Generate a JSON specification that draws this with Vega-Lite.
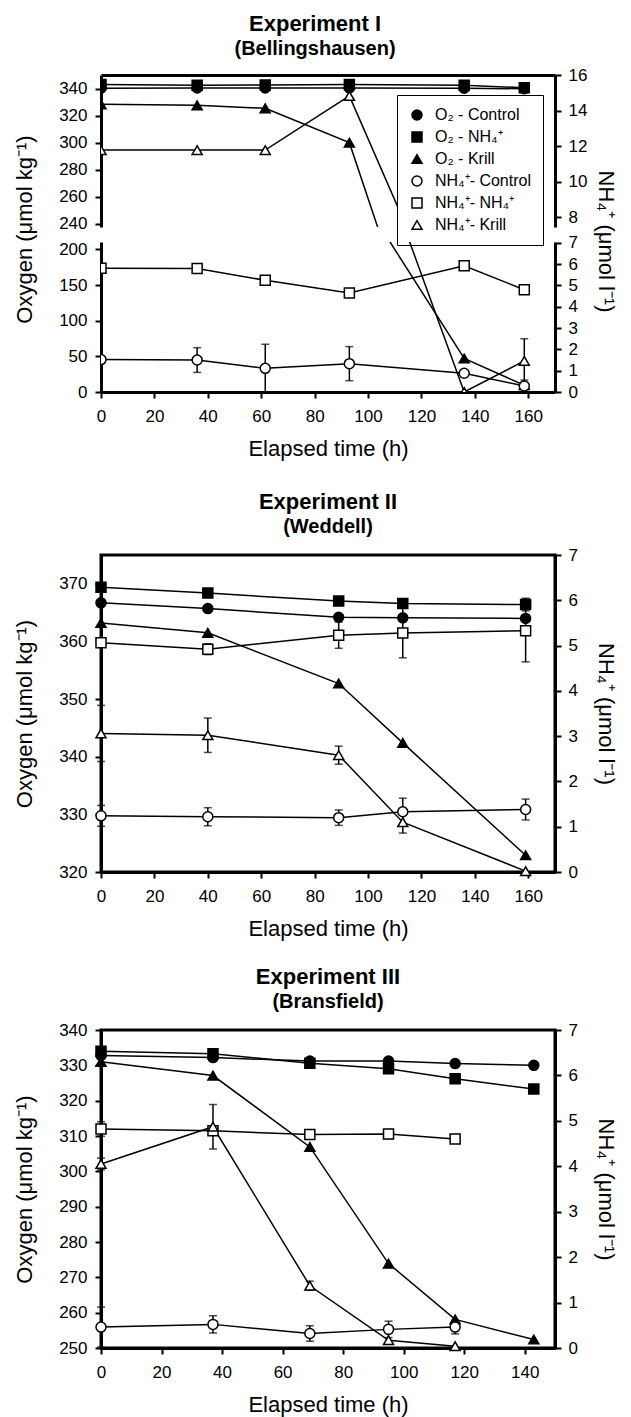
{
  "$schema": "https://vega.github.io/schema/vega-lite/v6.json",
  "padding": {"left": 12, "top": 13, "right": 5, "bottom": 2},
  "background": "white",
  "config": {
    "font": "Liberation Sans",
    "view": {"stroke": null},
    "axis": {
      "domainColor": "black", "domainWidth": 3, "tickColor": "black", "tickWidth": 2, "tickSize": 6,
      "labelColor": "black", "labelFont": "Liberation Sans", "labelFontSize": 17, "labelPadding": 8,
      "labelFlush": false, "labelOverlap": false,
      "titleFont": "Liberation Sans", "titleFontSize": 22, "titleFontWeight": "normal", "titleColor": "black",
      "titlePadding": 22, "grid": false
    },
    "axisX": {"labelPadding": 10, "titlePadding": 14},
    "axisRight": {"labelPadding": 7, "titlePadding": 16},
    "title": {
      "font": "Liberation Sans", "fontSize": 22, "fontWeight": "bold", "color": "black",
      "subtitleFont": "Liberation Sans", "subtitleFontSize": 20, "subtitleFontWeight": "bold", "subtitleColor": "black",
      "anchor": "middle", "offset": 8, "subtitlePadding": 3
    }
  },
  "datasets": {
    "e1": [
      {"t": 0, "g": "O2", "s": "O₂ - Control", "v": 340.3},
      {"t": 36, "g": "O2", "s": "O₂ - Control", "v": 340.4},
      {"t": 61.5, "g": "O2", "s": "O₂ - Control", "v": 340.4},
      {"t": 93, "g": "O2", "s": "O₂ - Control", "v": 340.4},
      {"t": 136, "g": "O2", "s": "O₂ - Control", "v": 340.3},
      {"t": 158.5, "g": "O2", "s": "O₂ - Control", "v": 339.8},
      {"t": 0, "g": "O2", "s": "O₂ - NH₄⁺", "v": 343},
      {"t": 36, "g": "O2", "s": "O₂ - NH₄⁺", "v": 342.5},
      {"t": 61.5, "g": "O2", "s": "O₂ - NH₄⁺", "v": 342.6},
      {"t": 93, "g": "O2", "s": "O₂ - NH₄⁺", "v": 343},
      {"t": 136, "g": "O2", "s": "O₂ - NH₄⁺", "v": 342.4},
      {"t": 158.5, "g": "O2", "s": "O₂ - NH₄⁺", "v": 340.6},
      {"t": 0, "g": "O2", "s": "O₂ - Krill", "v": 328.3},
      {"t": 36, "g": "O2", "s": "O₂ - Krill", "v": 327.6},
      {"t": 61.5, "g": "O2", "s": "O₂ - Krill", "v": 325.4},
      {"t": 93, "g": "O2", "s": "O₂ - Krill", "v": 300},
      {"t": 136, "g": "O2", "s": "O₂ - Krill", "v": 47},
      {"t": 158.5, "g": "O2", "s": "O₂ - Krill", "v": 9.5},
      {"t": 0, "g": "NH4", "s": "NH₄⁺- Control", "v": 1.52},
      {"t": 36, "g": "NH4", "s": "NH₄⁺- Control", "v": 1.5, "err": 0.58},
      {"t": 61.5, "g": "NH4", "s": "NH₄⁺- Control", "v": 1.11, "err": 1.13},
      {"t": 93, "g": "NH4", "s": "NH₄⁺- Control", "v": 1.33, "err": 0.8},
      {"t": 136, "g": "NH4", "s": "NH₄⁺- Control", "v": 0.88},
      {"t": 158.5, "g": "NH4", "s": "NH₄⁺- Control", "v": 0.28, "err": 0.28},
      {"t": 0, "g": "NH4", "s": "NH₄⁺- NH₄⁺", "v": 5.81},
      {"t": 36, "g": "NH4", "s": "NH₄⁺- NH₄⁺", "v": 5.8},
      {"t": 61.5, "g": "NH4", "s": "NH₄⁺- NH₄⁺", "v": 5.24},
      {"t": 93, "g": "NH4", "s": "NH₄⁺- NH₄⁺", "v": 4.65},
      {"t": 136, "g": "NH4", "s": "NH₄⁺- NH₄⁺", "v": 5.92},
      {"t": 158.5, "g": "NH4", "s": "NH₄⁺- NH₄⁺", "v": 4.8},
      {"t": 0, "g": "NH4", "s": "NH₄⁺- Krill", "v": 11.77},
      {"t": 36, "g": "NH4", "s": "NH₄⁺- Krill", "v": 11.77},
      {"t": 61.5, "g": "NH4", "s": "NH₄⁺- Krill", "v": 11.77},
      {"t": 93, "g": "NH4", "s": "NH₄⁺- Krill", "v": 14.82},
      {"t": 136, "g": "NH4", "s": "NH₄⁺- Krill", "v": 0},
      {"t": 158.5, "g": "NH4", "s": "NH₄⁺- Krill", "v": 1.46, "err": 1.04}
    ],
    "e2": [
      {"t": 0, "g": "O2", "s": "O₂ - Control", "v": 366.7},
      {"t": 40, "g": "O2", "s": "O₂ - Control", "v": 365.7},
      {"t": 89, "g": "O2", "s": "O₂ - Control", "v": 364.2},
      {"t": 113, "g": "O2", "s": "O₂ - Control", "v": 364.1},
      {"t": 159, "g": "O2", "s": "O₂ - Control", "v": 364.0},
      {"t": 0, "g": "O2", "s": "O₂ - NH₄⁺", "v": 369.4},
      {"t": 40, "g": "O2", "s": "O₂ - NH₄⁺", "v": 368.4},
      {"t": 89, "g": "O2", "s": "O₂ - NH₄⁺", "v": 367.0},
      {"t": 113, "g": "O2", "s": "O₂ - NH₄⁺", "v": 366.6},
      {"t": 159, "g": "O2", "s": "O₂ - NH₄⁺", "v": 366.4, "err": 1.1},
      {"t": 0, "g": "O2", "s": "O₂ - Krill", "v": 363.2},
      {"t": 40, "g": "O2", "s": "O₂ - Krill", "v": 361.5},
      {"t": 89, "g": "O2", "s": "O₂ - Krill", "v": 352.7},
      {"t": 113, "g": "O2", "s": "O₂ - Krill", "v": 342.4},
      {"t": 159, "g": "O2", "s": "O₂ - Krill", "v": 322.9},
      {"t": 0, "g": "NH4", "s": "NH₄⁺- Control", "v": 1.24, "err": 0.23},
      {"t": 40, "g": "NH4", "s": "NH₄⁺- Control", "v": 1.22, "err": 0.2},
      {"t": 89, "g": "NH4", "s": "NH₄⁺- Control", "v": 1.2, "err": 0.17},
      {"t": 113, "g": "NH4", "s": "NH₄⁺- Control", "v": 1.33, "err": 0.3},
      {"t": 159, "g": "NH4", "s": "NH₄⁺- Control", "v": 1.38, "err": 0.23},
      {"t": 0, "g": "NH4", "s": "NH₄⁺- NH₄⁺", "v": 5.06},
      {"t": 40, "g": "NH4", "s": "NH₄⁺- NH₄⁺", "v": 4.92, "err": 0.12},
      {"t": 89, "g": "NH4", "s": "NH₄⁺- NH₄⁺", "v": 5.23, "err": 0.29},
      {"t": 113, "g": "NH4", "s": "NH₄⁺- NH₄⁺", "v": 5.28, "err": 0.55},
      {"t": 159, "g": "NH4", "s": "NH₄⁺- NH₄⁺", "v": 5.33, "err": 0.69},
      {"t": 0, "g": "NH4", "s": "NH₄⁺- Krill", "v": 3.06, "err": 0.62},
      {"t": 40, "g": "NH4", "s": "NH₄⁺- Krill", "v": 3.02, "err": 0.38},
      {"t": 89, "g": "NH4", "s": "NH₄⁺- Krill", "v": 2.58, "err": 0.2},
      {"t": 113, "g": "NH4", "s": "NH₄⁺- Krill", "v": 1.1, "err": 0.24},
      {"t": 159, "g": "NH4", "s": "NH₄⁺- Krill", "v": 0.02}
    ],
    "e3": [
      {"t": 0, "g": "O2", "s": "O₂ - Control", "v": 332.8},
      {"t": 37, "g": "O2", "s": "O₂ - Control", "v": 332.2},
      {"t": 69, "g": "O2", "s": "O₂ - Control", "v": 331.2},
      {"t": 95, "g": "O2", "s": "O₂ - Control", "v": 331.2},
      {"t": 117, "g": "O2", "s": "O₂ - Control", "v": 330.5},
      {"t": 143, "g": "O2", "s": "O₂ - Control", "v": 330.0},
      {"t": 0, "g": "O2", "s": "O₂ - NH₄⁺", "v": 334},
      {"t": 37, "g": "O2", "s": "O₂ - NH₄⁺", "v": 333.3},
      {"t": 69, "g": "O2", "s": "O₂ - NH₄⁺", "v": 330.6},
      {"t": 95, "g": "O2", "s": "O₂ - NH₄⁺", "v": 329.0},
      {"t": 117, "g": "O2", "s": "O₂ - NH₄⁺", "v": 326.2},
      {"t": 143, "g": "O2", "s": "O₂ - NH₄⁺", "v": 323.3},
      {"t": 0, "g": "O2", "s": "O₂ - Krill", "v": 331},
      {"t": 37, "g": "O2", "s": "O₂ - Krill", "v": 327.1},
      {"t": 69, "g": "O2", "s": "O₂ - Krill", "v": 306.9},
      {"t": 95, "g": "O2", "s": "O₂ - Krill", "v": 273.9},
      {"t": 117, "g": "O2", "s": "O₂ - Krill", "v": 258.1},
      {"t": 143, "g": "O2", "s": "O₂ - Krill", "v": 252.4},
      {"t": 0, "g": "NH4", "s": "NH₄⁺- Control", "v": 0.46, "err": 0.44},
      {"t": 37, "g": "NH4", "s": "NH₄⁺- Control", "v": 0.52, "err": 0.19},
      {"t": 69, "g": "NH4", "s": "NH₄⁺- Control", "v": 0.32, "err": 0.17},
      {"t": 95, "g": "NH4", "s": "NH₄⁺- Control", "v": 0.41, "err": 0.18},
      {"t": 117, "g": "NH4", "s": "NH₄⁺- Control", "v": 0.46, "err": 0.15},
      {"t": 0, "g": "NH4", "s": "NH₄⁺- NH₄⁺", "v": 4.82, "err": 0.16},
      {"t": 37, "g": "NH4", "s": "NH₄⁺- NH₄⁺", "v": 4.78},
      {"t": 69, "g": "NH4", "s": "NH₄⁺- NH₄⁺", "v": 4.7},
      {"t": 95, "g": "NH4", "s": "NH₄⁺- NH₄⁺", "v": 4.71, "err": 0.1},
      {"t": 117, "g": "NH4", "s": "NH₄⁺- NH₄⁺", "v": 4.6},
      {"t": 0, "g": "NH4", "s": "NH₄⁺- Krill", "v": 4.05, "err": 0.13},
      {"t": 37, "g": "NH4", "s": "NH₄⁺- Krill", "v": 4.87, "err": 0.49},
      {"t": 69, "g": "NH4", "s": "NH₄⁺- Krill", "v": 1.37, "err": 0.1},
      {"t": 95, "g": "NH4", "s": "NH₄⁺- Krill", "v": 0.17},
      {"t": 117, "g": "NH4", "s": "NH₄⁺- Krill", "v": 0.04}
    ]
  },
  "resolve": {"scale": {"shape": "independent", "fill": "independent"}},
  "spacing": 30,
  "vconcat": [
    {
      "title": {"text": "Experiment I", "subtitle": "(Bellingshausen)", "offset": 6},
      "bounds": "flush",
      "spacing": 15,
      "resolve": {"scale": {"shape": "independent", "fill": "independent"}},
      "vconcat": [
        {
          "width": 454,
          "height": 152,
          "data": {"name": "e1"},
          "encoding": {
            "x": {"field": "t", "type": "quantitative", "scale": {"domain": [0, 170], "nice": false},
                  "axis": {"orient": "top", "labels": false, "ticks": false, "title": null}}
          },
          "layer": [
            {
              "transform": [{"filter": "datum.g == 'O2'"}],
              "encoding": {
                "y": {"field": "v", "type": "quantitative", "scale": {"domain": [237.7, 350], "nice": false, "zero": false},
                      "axis": {"values": [240, 260, 280, 300, 320, 340], "title": null}}
              },
              "layer": [
                {"mark": {"type": "line", "color": "black", "strokeWidth": 1.5, "clip": true}, "encoding": {"detail": {"field": "s"}}},
                {
                  "mark": {"type": "point", "filled": true, "opacity": 1, "stroke": "black", "strokeWidth": 1.5, "size": 100, "clip": true},
                  "encoding": {
                    "shape": {"field": "s", "type": "nominal",
                      "scale": {"domain": ["O₂ - Control", "O₂ - NH₄⁺", "O₂ - Krill", "NH₄⁺- Control", "NH₄⁺- NH₄⁺", "NH₄⁺- Krill"], "range": ["circle", "square", "triangle-up", "circle", "square", "triangle-up"]},
                      "legend": {"title": null, "orient": "none", "legendX": 296, "legendY": 20, "fillColor": "white", "strokeColor": "black", "padding": 12, "rowPadding": 6, "labelFontSize": 16, "labelColor": "black", "labelOffset": 10, "symbolSize": 100,
                        "encode": {"symbols": {"update": {"stroke": {"value": "black"}, "strokeWidth": {"value": 1.5}}}}}},
                    "fill": {"field": "s", "type": "nominal",
                      "scale": {"domain": ["O₂ - Control", "O₂ - NH₄⁺", "O₂ - Krill", "NH₄⁺- Control", "NH₄⁺- NH₄⁺", "NH₄⁺- Krill"], "range": ["black", "black", "black", "white", "white", "white"]},
                      "legend": {"title": null, "orient": "none", "legendX": 296, "legendY": 20, "fillColor": "white", "strokeColor": "black", "padding": 12, "rowPadding": 6, "labelFontSize": 16, "labelColor": "black", "labelOffset": 10, "symbolSize": 100,
                        "encode": {"symbols": {"update": {"stroke": {"value": "black"}, "strokeWidth": {"value": 1.5}}}}}}
                  }
                }
              ]
            },
            {
              "transform": [{"filter": "datum.g == 'NH4'"}],
              "encoding": {
                "y": {"field": "v", "type": "quantitative", "scale": {"domain": [7.44, 16], "nice": false, "zero": false},
                      "axis": {"orient": "right", "values": [8, 10, 12, 14, 16], "title": null}}
              },
              "layer": [
                {"mark": {"type": "line", "color": "black", "strokeWidth": 1.5, "clip": true}, "encoding": {"detail": {"field": "s"}}},
                {
                  "mark": {"type": "point", "filled": true, "opacity": 1, "stroke": "black", "strokeWidth": 1.5, "size": 100, "clip": true},
                  "encoding": {
                    "shape": {"field": "s", "type": "nominal",
                      "scale": {"domain": ["O₂ - Control", "O₂ - NH₄⁺", "O₂ - Krill", "NH₄⁺- Control", "NH₄⁺- NH₄⁺", "NH₄⁺- Krill"], "range": ["circle", "square", "triangle-up", "circle", "square", "triangle-up"]},
                      "legend": {"title": null, "orient": "none", "legendX": 296, "legendY": 20, "fillColor": "white", "strokeColor": "black", "padding": 12, "rowPadding": 6, "labelFontSize": 16, "labelColor": "black", "labelOffset": 10, "symbolSize": 100,
                        "encode": {"symbols": {"update": {"stroke": {"value": "black"}, "strokeWidth": {"value": 1.5}}}}}},
                    "fill": {"field": "s", "type": "nominal",
                      "scale": {"domain": ["O₂ - Control", "O₂ - NH₄⁺", "O₂ - Krill", "NH₄⁺- Control", "NH₄⁺- NH₄⁺", "NH₄⁺- Krill"], "range": ["black", "black", "black", "white", "white", "white"]},
                      "legend": {"title": null, "orient": "none", "legendX": 296, "legendY": 20, "fillColor": "white", "strokeColor": "black", "padding": 12, "rowPadding": 6, "labelFontSize": 16, "labelColor": "black", "labelOffset": 10, "symbolSize": 100,
                        "encode": {"symbols": {"update": {"stroke": {"value": "black"}, "strokeWidth": {"value": 1.5}}}}}}
                  }
                }
              ]
            }
          ],
          "resolve": {"scale": {"y": "independent"}}
        },
        {
          "width": 454,
          "height": 150,
          "data": {"name": "e1"},
          "encoding": {
            "x": {"field": "t", "type": "quantitative", "scale": {"domain": [0, 170], "nice": false},
                  "axis": {"values": [0, 20, 40, 60, 80, 100, 120, 140, 160], "title": "Elapsed time (h)"}}
          },
          "layer": [
            {
              "transform": [{"filter": "datum.g == 'O2'"}],
              "encoding": {
                "y": {"field": "v", "type": "quantitative", "scale": {"domain": [0, 210.4], "nice": false, "zero": false},
                      "axis": {"values": [0, 50, 100, 150, 200], "title": "Oxygen (μmol kg⁻¹)", "titleY": -13}}
              },
              "layer": [
                {"mark": {"type": "line", "color": "black", "strokeWidth": 1.5, "clip": true}, "encoding": {"detail": {"field": "s"}}},
                {
                  "mark": {"type": "point", "filled": true, "opacity": 1, "stroke": "black", "strokeWidth": 1.5, "size": 100, "clip": true},
                  "encoding": {
                    "shape": {"field": "s", "type": "nominal", "legend": null,
                      "scale": {"domain": ["O₂ - Control", "O₂ - NH₄⁺", "O₂ - Krill", "NH₄⁺- Control", "NH₄⁺- NH₄⁺", "NH₄⁺- Krill"], "range": ["circle", "square", "triangle-up", "circle", "square", "triangle-up"]}},
                    "fill": {"field": "s", "type": "nominal", "legend": null,
                      "scale": {"domain": ["O₂ - Control", "O₂ - NH₄⁺", "O₂ - Krill", "NH₄⁺- Control", "NH₄⁺- NH₄⁺", "NH₄⁺- Krill"], "range": ["black", "black", "black", "white", "white", "white"]}}
                  }
                }
              ]
            },
            {
              "transform": [{"filter": "datum.g == 'NH4'"}],
              "encoding": {
                "y": {"field": "v", "type": "quantitative", "scale": {"domain": [0, 7.04], "nice": false, "zero": false},
                      "axis": {"orient": "right", "values": [0, 1, 2, 3, 4, 5, 6, 7], "title": "NH₄⁺ (μmol l⁻¹)", "titleY": -1}}
              },
              "layer": [
                {"mark": {"type": "line", "color": "black", "strokeWidth": 1.5, "clip": true}, "encoding": {"detail": {"field": "s"}}},
                {"transform": [{"filter": "isValid(datum.err)"}],
                 "mark": {"type": "errorbar", "ticks": true, "size": 8, "thickness": 1.5, "color": "black"},
                 "encoding": {"yError": {"field": "err"}}},
                {
                  "mark": {"type": "point", "filled": true, "opacity": 1, "stroke": "black", "strokeWidth": 1.5, "size": 100, "clip": true},
                  "encoding": {
                    "shape": {"field": "s", "type": "nominal", "legend": null,
                      "scale": {"domain": ["O₂ - Control", "O₂ - NH₄⁺", "O₂ - Krill", "NH₄⁺- Control", "NH₄⁺- NH₄⁺", "NH₄⁺- Krill"], "range": ["circle", "square", "triangle-up", "circle", "square", "triangle-up"]}},
                    "fill": {"field": "s", "type": "nominal", "legend": null,
                      "scale": {"domain": ["O₂ - Control", "O₂ - NH₄⁺", "O₂ - Krill", "NH₄⁺- Control", "NH₄⁺- NH₄⁺", "NH₄⁺- Krill"], "range": ["black", "black", "black", "white", "white", "white"]}}
                  }
                }
              ]
            }
          ],
          "resolve": {"scale": {"y": "independent"}}
        }
      ]
    },
    {
      "spacing": 23,
      "resolve": {"scale": {"shape": "independent", "fill": "independent"}},
      "vconcat": [
        {
          "title": {"text": "Experiment II", "subtitle": "(Weddell)"},
          "width": 454,
          "height": 317,
          "view": {"stroke": "black", "strokeWidth": 3},
          "data": {"name": "e2"},
          "encoding": {
            "x": {"field": "t", "type": "quantitative", "scale": {"domain": [0, 170], "nice": false},
                  "axis": {"values": [0, 20, 40, 60, 80, 100, 120, 140, 160], "title": "Elapsed time (h)"}}
          },
          "layer": [
            {
              "transform": [{"filter": "datum.g == 'O2'"}],
              "encoding": {
                "y": {"field": "v", "type": "quantitative", "scale": {"domain": [320, 375], "nice": false, "zero": false},
                      "axis": {"values": [320, 330, 340, 350, 360, 370], "title": "Oxygen (μmol kg⁻¹)"}}
              },
              "layer": [
                {"mark": {"type": "line", "color": "black", "strokeWidth": 1.5}, "encoding": {"detail": {"field": "s"}}},
                {"transform": [{"filter": "isValid(datum.err)"}],
                 "mark": {"type": "errorbar", "ticks": true, "size": 8, "thickness": 1.5, "color": "black"},
                 "encoding": {"yError": {"field": "err"}}},
                {
                  "mark": {"type": "point", "filled": true, "opacity": 1, "stroke": "black", "strokeWidth": 1.5, "size": 100},
                  "encoding": {
                    "shape": {"field": "s", "type": "nominal", "legend": null,
                      "scale": {"domain": ["O₂ - Control", "O₂ - NH₄⁺", "O₂ - Krill", "NH₄⁺- Control", "NH₄⁺- NH₄⁺", "NH₄⁺- Krill"], "range": ["circle", "square", "triangle-up", "circle", "square", "triangle-up"]}},
                    "fill": {"field": "s", "type": "nominal", "legend": null,
                      "scale": {"domain": ["O₂ - Control", "O₂ - NH₄⁺", "O₂ - Krill", "NH₄⁺- Control", "NH₄⁺- NH₄⁺", "NH₄⁺- Krill"], "range": ["black", "black", "black", "white", "white", "white"]}}
                  }
                }
              ]
            },
            {
              "transform": [{"filter": "datum.g == 'NH4'"}],
              "encoding": {
                "y": {"field": "v", "type": "quantitative", "scale": {"domain": [0, 7], "nice": false, "zero": false},
                      "axis": {"orient": "right", "values": [0, 1, 2, 3, 4, 5, 6, 7], "title": "NH₄⁺ (μmol l⁻¹)"}}
              },
              "layer": [
                {"mark": {"type": "line", "color": "black", "strokeWidth": 1.5}, "encoding": {"detail": {"field": "s"}}},
                {"transform": [{"filter": "isValid(datum.err)"}],
                 "mark": {"type": "errorbar", "ticks": true, "size": 8, "thickness": 1.5, "color": "black"},
                 "encoding": {"yError": {"field": "err"}}},
                {
                  "mark": {"type": "point", "filled": true, "opacity": 1, "stroke": "black", "strokeWidth": 1.5, "size": 100},
                  "encoding": {
                    "shape": {"field": "s", "type": "nominal", "legend": null,
                      "scale": {"domain": ["O₂ - Control", "O₂ - NH₄⁺", "O₂ - Krill", "NH₄⁺- Control", "NH₄⁺- NH₄⁺", "NH₄⁺- Krill"], "range": ["circle", "square", "triangle-up", "circle", "square", "triangle-up"]}},
                    "fill": {"field": "s", "type": "nominal", "legend": null,
                      "scale": {"domain": ["O₂ - Control", "O₂ - NH₄⁺", "O₂ - Krill", "NH₄⁺- Control", "NH₄⁺- NH₄⁺", "NH₄⁺- Krill"], "range": ["black", "black", "black", "white", "white", "white"]}}
                  }
                }
              ]
            }
          ],
          "resolve": {"scale": {"y": "independent"}}
        },
        {
          "title": {"text": "Experiment III", "subtitle": "(Bransfield)"},
          "width": 454,
          "height": 318,
          "view": {"stroke": "black", "strokeWidth": 3},
          "data": {"name": "e3"},
          "encoding": {
            "x": {"field": "t", "type": "quantitative", "scale": {"domain": [0, 150], "nice": false},
                  "axis": {"values": [0, 20, 40, 60, 80, 100, 120, 140], "title": "Elapsed time (h)"}}
          },
          "layer": [
            {
              "transform": [{"filter": "datum.g == 'O2'"}],
              "encoding": {
                "y": {"field": "v", "type": "quantitative", "scale": {"domain": [250, 340], "nice": false, "zero": false},
                      "axis": {"values": [250, 260, 270, 280, 290, 300, 310, 320, 330, 340], "title": "Oxygen (μmol kg⁻¹)"}}
              },
              "layer": [
                {"mark": {"type": "line", "color": "black", "strokeWidth": 1.5}, "encoding": {"detail": {"field": "s"}}},
                {
                  "mark": {"type": "point", "filled": true, "opacity": 1, "stroke": "black", "strokeWidth": 1.5, "size": 100},
                  "encoding": {
                    "shape": {"field": "s", "type": "nominal", "legend": null,
                      "scale": {"domain": ["O₂ - Control", "O₂ - NH₄⁺", "O₂ - Krill", "NH₄⁺- Control", "NH₄⁺- NH₄⁺", "NH₄⁺- Krill"], "range": ["circle", "square", "triangle-up", "circle", "square", "triangle-up"]}},
                    "fill": {"field": "s", "type": "nominal", "legend": null,
                      "scale": {"domain": ["O₂ - Control", "O₂ - NH₄⁺", "O₂ - Krill", "NH₄⁺- Control", "NH₄⁺- NH₄⁺", "NH₄⁺- Krill"], "range": ["black", "black", "black", "white", "white", "white"]}}
                  }
                }
              ]
            },
            {
              "transform": [{"filter": "datum.g == 'NH4'"}],
              "encoding": {
                "y": {"field": "v", "type": "quantitative", "scale": {"domain": [0, 7], "nice": false, "zero": false},
                      "axis": {"orient": "right", "values": [0, 1, 2, 3, 4, 5, 6, 7], "title": "NH₄⁺ (μmol l⁻¹)"}}
              },
              "layer": [
                {"mark": {"type": "line", "color": "black", "strokeWidth": 1.5}, "encoding": {"detail": {"field": "s"}}},
                {"transform": [{"filter": "isValid(datum.err)"}],
                 "mark": {"type": "errorbar", "ticks": true, "size": 8, "thickness": 1.5, "color": "black"},
                 "encoding": {"yError": {"field": "err"}}},
                {
                  "mark": {"type": "point", "filled": true, "opacity": 1, "stroke": "black", "strokeWidth": 1.5, "size": 100},
                  "encoding": {
                    "shape": {"field": "s", "type": "nominal", "legend": null,
                      "scale": {"domain": ["O₂ - Control", "O₂ - NH₄⁺", "O₂ - Krill", "NH₄⁺- Control", "NH₄⁺- NH₄⁺", "NH₄⁺- Krill"], "range": ["circle", "square", "triangle-up", "circle", "square", "triangle-up"]}},
                    "fill": {"field": "s", "type": "nominal", "legend": null,
                      "scale": {"domain": ["O₂ - Control", "O₂ - NH₄⁺", "O₂ - Krill", "NH₄⁺- Control", "NH₄⁺- NH₄⁺", "NH₄⁺- Krill"], "range": ["black", "black", "black", "white", "white", "white"]}}
                  }
                }
              ]
            }
          ],
          "resolve": {"scale": {"y": "independent"}}
        }
      ]
    }
  ]
}
